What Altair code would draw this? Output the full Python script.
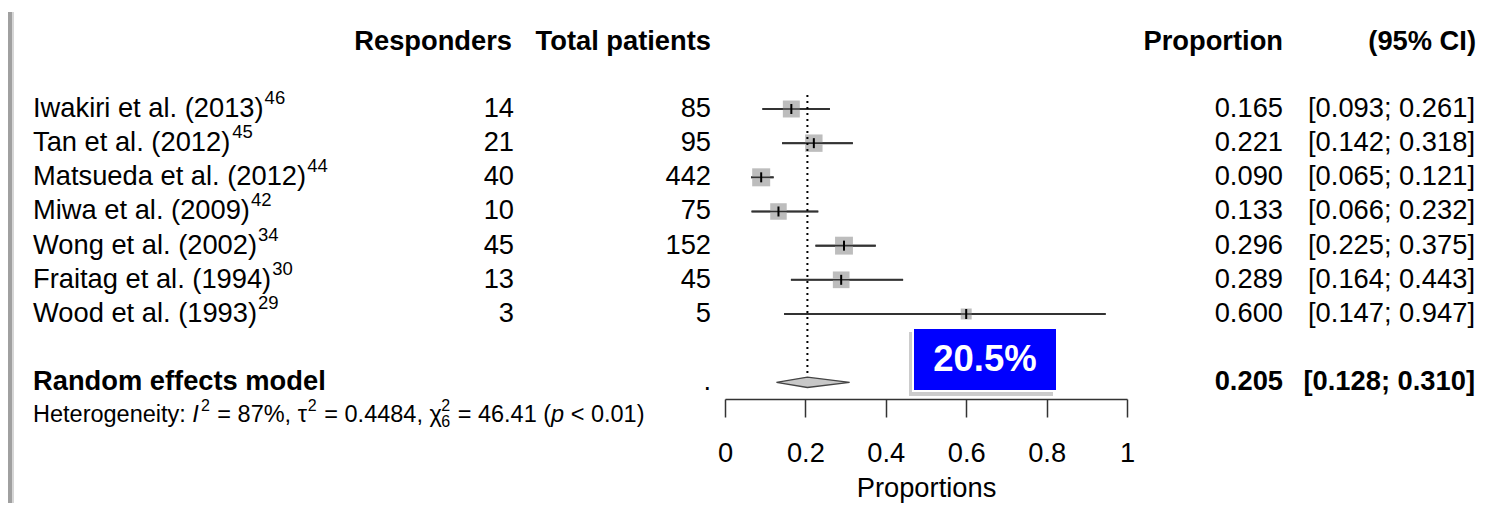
import altair as alt
import pandas as pd

# ---------------- data ----------------
studies = ["Iwakiri et al. (2013)", "Tan et al. (2012)", "Matsueda et al. (2012)",
           "Miwa et al. (2009)", "Wong et al. (2002)", "Fraitag et al. (1994)",
           "Wood et al. (1993)"]
refs = ["46", "45", "44", "42", "34", "30", "29"]
responders = [14, 21, 40, 10, 45, 13, 3]
totals = [85, 95, 442, 75, 152, 45, 5]
props = [0.165, 0.221, 0.090, 0.133, 0.296, 0.289, 0.600]
ci_lower = [0.093, 0.142, 0.065, 0.066, 0.225, 0.164, 0.147]
ci_upper = [0.261, 0.318, 0.121, 0.232, 0.375, 0.443, 0.947]
weights = [15.1, 15.9, 17.0, 14.3, 16.8, 14.6, 6.3]   # estimated from square sizes
re_label = "Random effects model"
re_est, re_lower, re_upper = 0.205, 0.128, 0.310
x_ticks = [0, 0.2, 0.4, 0.6, 0.8, 1]
headers = ["Responders", "Total patients", "Proportion", "(95% CI)"]
het_segments = [("Heterogeneity: ", "n"), ("I", "i"), ("2", "sup"), (" = 87%, τ", "n"),
                ("2", "sup"), (" = 0.4484, χ", "n"), ("2", "sup"), ("6", "sub"),
                (" = 46.41 (", "n"), ("p", "i"), (" < 0.01)", "n")]
x_title = "Proportions"

# ---------------- style / layout ----------------
FONT = "Liberation Sans"
FS = 27.3
HFS = 23.5
SFS = 16
W = {' ': 278, '(': 333, ')': 333, '.': 278, ',': 278, ':': 278, '=': 584, '<': 584,
     '%': 889, 'I': 278, 'H': 722, 'T': 611, 'M': 833, 'W': 944, 'F': 611,
     'a': 556, 'd': 556, 'e': 556, 'g': 556, 'i': 222, 'k': 500, 'l': 222, 'n': 556,
     'o': 556, 'p': 556, 'r': 333, 's': 500, 't': 278, 'u': 556, 'w': 722, 'y': 500,
     'τ': 434, 'χ': 500}
KERN = {"Ta": -74, "Wo": -18}


def tw(s, fs):
    total = sum(W.get(c, 556) for c in s)
    total += sum(KERN.get(s[k:k + 2], 0) for k in range(len(s) - 1))
    return total * fs / 1000.0


xscale = alt.Scale(domain=[0, 1], range=[717, 1119], nice=False, zero=False)
yscale = alt.Scale(domain=[0, 8], range=[101, 374.3], nice=False, zero=False)
Y = alt.Y("row:Q", scale=yscale, axis=None)
RE_ROW = 8
LEFT = 25

AXIS = alt.Axis(values=x_ticks, format="~g", tickSize=18, tickWidth=1.5, tickColor="#333",
                domainColor="#333", domainWidth=1.5, labelFont=FONT, labelFontSize=FS,
                labelColor="black", labelPadding=22, labelFlush=False, labelOverlap=False,
                title=x_title, titleFont=FONT, titleFontSize=FS, titleFontWeight="normal",
                titleColor="black", titlePadding=8, grid=False)


def X(field):
    return alt.X(field, scale=xscale, axis=AXIS)


df = pd.DataFrame(dict(study=studies, ref=refs, resp=[str(v) for v in responders],
                       total=[str(v) for v in totals], prop=props, lo=ci_lower,
                       hi=ci_upper, w=weights, row=list(range(len(studies)))))
df["prop_txt"] = [f"{v:.3f}" for v in props]
df["ci_txt"] = [f"[{l:.3f}; {h:.3f}]" for l, h in zip(ci_lower, ci_upper)]


def txt(data, **kw):
    base = dict(font=FONT, fontSize=FS, color="black", baseline="middle")
    base.update(kw)
    return alt.Chart(data).mark_text(**base)


layers = []

# CI lines first (carry the axis)
layers.append(alt.Chart(df).mark_rule(color="#333333", strokeWidth=2).encode(
    x=X("lo:Q"), x2="hi:Q", y=Y))

# squares
layers.append(alt.Chart(df).mark_square(color="#bdbdbd", opacity=1, filled=True).encode(
    x=X("prop:Q"), y=Y,
    size=alt.Size("w:Q", scale=alt.Scale(domain=[0, 17], range=[0, 324]), legend=None)))

# CI lines again on top of the squares
layers.append(alt.Chart(df).mark_rule(color="#333333", strokeWidth=1.6).encode(
    x=X("lo:Q"), x2="hi:Q", y=Y))

# point ticks
layers.append(alt.Chart(df).mark_rule(color="black", strokeWidth=2, yOffset=-5, y2Offset=5).encode(
    x=X("prop:Q"), y=Y, y2="row:Q"))

# reference dotted line at pooled estimate
layers.append(alt.Chart(pd.DataFrame({"x": [re_est]})).mark_rule(
    color="black", strokeWidth=2, strokeDash=[2, 4]).encode(
    x=X("x:Q"), y=alt.value(87), y2=alt.value(368)))

# diamond
d = 5.2 / 34.16
dia = pd.DataFrame({"x": [re_lower, re_est, re_upper],
                    "yt": [RE_ROW, RE_ROW - d, RE_ROW], "yb": [RE_ROW, RE_ROW + d, RE_ROW]})
layers.append(alt.Chart(dia).mark_area(orient="vertical", fill="#c8c8c8", stroke="#444444",
                                       strokeWidth=1.3, opacity=1).encode(
    x=X("x:Q"), y=alt.Y("yt:Q", scale=yscale, axis=None), y2="yb:Q"))

# left frame shadow
frame = pd.DataFrame({"a": [0]})
layers.append(alt.Chart(frame).mark_rule(color="#a0a0a0", strokeWidth=4).encode(
    x=alt.value(2), y=alt.value(4), y2=alt.value(495)))
layers.append(alt.Chart(frame).mark_rule(color="#d6d6d6", strokeWidth=2).encode(
    x=alt.value(5), y=alt.value(4), y2=alt.value(495)))

# study table text
layers.append(txt(df, align="left").encode(x=alt.value(LEFT), y=Y, text="study:N"))
for i, s in enumerate(studies):
    layers.append(txt(df.iloc[[i]], align="left", fontSize=18.5, dy=-11).encode(
        x=alt.value(LEFT + tw(s, FS) + 1), y=Y, text="ref:N"))
layers.append(txt(df, align="right").encode(x=alt.value(506), y=Y, text="resp:N"))
layers.append(txt(df, align="right").encode(x=alt.value(703), y=Y, text="total:N"))
layers.append(txt(df, align="right").encode(x=alt.value(1275), y=Y, text="prop_txt:N"))
layers.append(txt(df, align="right").encode(x=alt.value(1467), y=Y, text="ci_txt:N"))

# headers
hdf = pd.DataFrame({"h": headers})
for i, xp in enumerate([504, 703, 1275, 1468]):
    layers.append(txt(hdf.iloc[[i]], align="right", fontWeight="bold").encode(
        x=alt.value(xp), y=alt.value(34), text="h:N"))

# random effects row
re_df = pd.DataFrame({"label": [re_label], "row": [RE_ROW], "dot": ["."],
                      "est": [f"{re_est:.3f}"], "ci": [f"[{re_lower:.3f}; {re_upper:.3f}]"]})
layers.append(txt(re_df, align="left", fontWeight="bold").encode(x=alt.value(LEFT), y=Y, text="label:N"))
layers.append(txt(re_df, align="right").encode(x=alt.value(703), y=Y, text="dot:N"))
layers.append(txt(re_df, align="right", fontWeight="bold").encode(x=alt.value(1275), y=Y, text="est:N"))
layers.append(txt(re_df, align="right", fontWeight="bold").encode(x=alt.value(1467), y=Y, text="ci:N"))

# heterogeneity line (SVG drops leading spaces, so they are turned into x advances)
xcur = LEFT
HY = 407
for k, (seg, style) in enumerate(het_segments):
    nxt = het_segments[k + 1][1] if k + 1 < len(het_segments) else None
    prev = het_segments[k - 1][1] if k > 0 else None
    if style == "sup":
        xs = xcur + (2 if prev == "i" else 0)
        layers.append(txt(pd.DataFrame({"t": [seg]}), align="left", fontSize=SFS, dy=-9).encode(
            x=alt.value(xs), y=alt.value(HY), text="t:N"))
        if nxt != "sub":
            xcur = xs + tw(seg, SFS) + 1
        continue
    if style == "sub":
        layers.append(txt(pd.DataFrame({"t": [seg]}), align="left", fontSize=SFS, dy=7).encode(
            x=alt.value(xcur), y=alt.value(HY), text="t:N"))
        xcur += tw(seg, SFS) + 1
        continue
    stripped = seg.lstrip(" ")
    lead = len(seg) - len(stripped)
    xcur += lead * W[' '] * HFS / 1000.0
    kw = {"fontStyle": "italic"} if style == "i" else {}
    layers.append(txt(pd.DataFrame({"t": [stripped]}), align="left", fontSize=HFS, **kw).encode(
        x=alt.value(xcur), y=alt.value(HY), text="t:N"))
    xcur += tw(stripped, HFS)

# blue annotation box
box = pd.DataFrame({"t": [f"{re_est * 100:.1f}%"]})
layers.append(alt.Chart(box).mark_rect(color="#808080", opacity=0.4).encode(
    x=alt.value(901), x2=alt.value(1045), y=alt.value(324), y2=alt.value(388)))
layers.append(alt.Chart(box).mark_rect(color="#0000ff", stroke="white", strokeWidth=2).encode(
    x=alt.value(905), x2=alt.value(1049), y=alt.value(320), y2=alt.value(383)))
layers.append(txt(box, align="center", fontWeight="bold", fontSize=36.5, color="white").encode(
    x=alt.value(977), y=alt.value(352), text="t:N"))

chart = alt.layer(*layers).properties(width=1490, height=391, padding=0).configure_view(stroke=None)
chart.save("out.html", embed_options={"renderer": "svg", "actions": False})
